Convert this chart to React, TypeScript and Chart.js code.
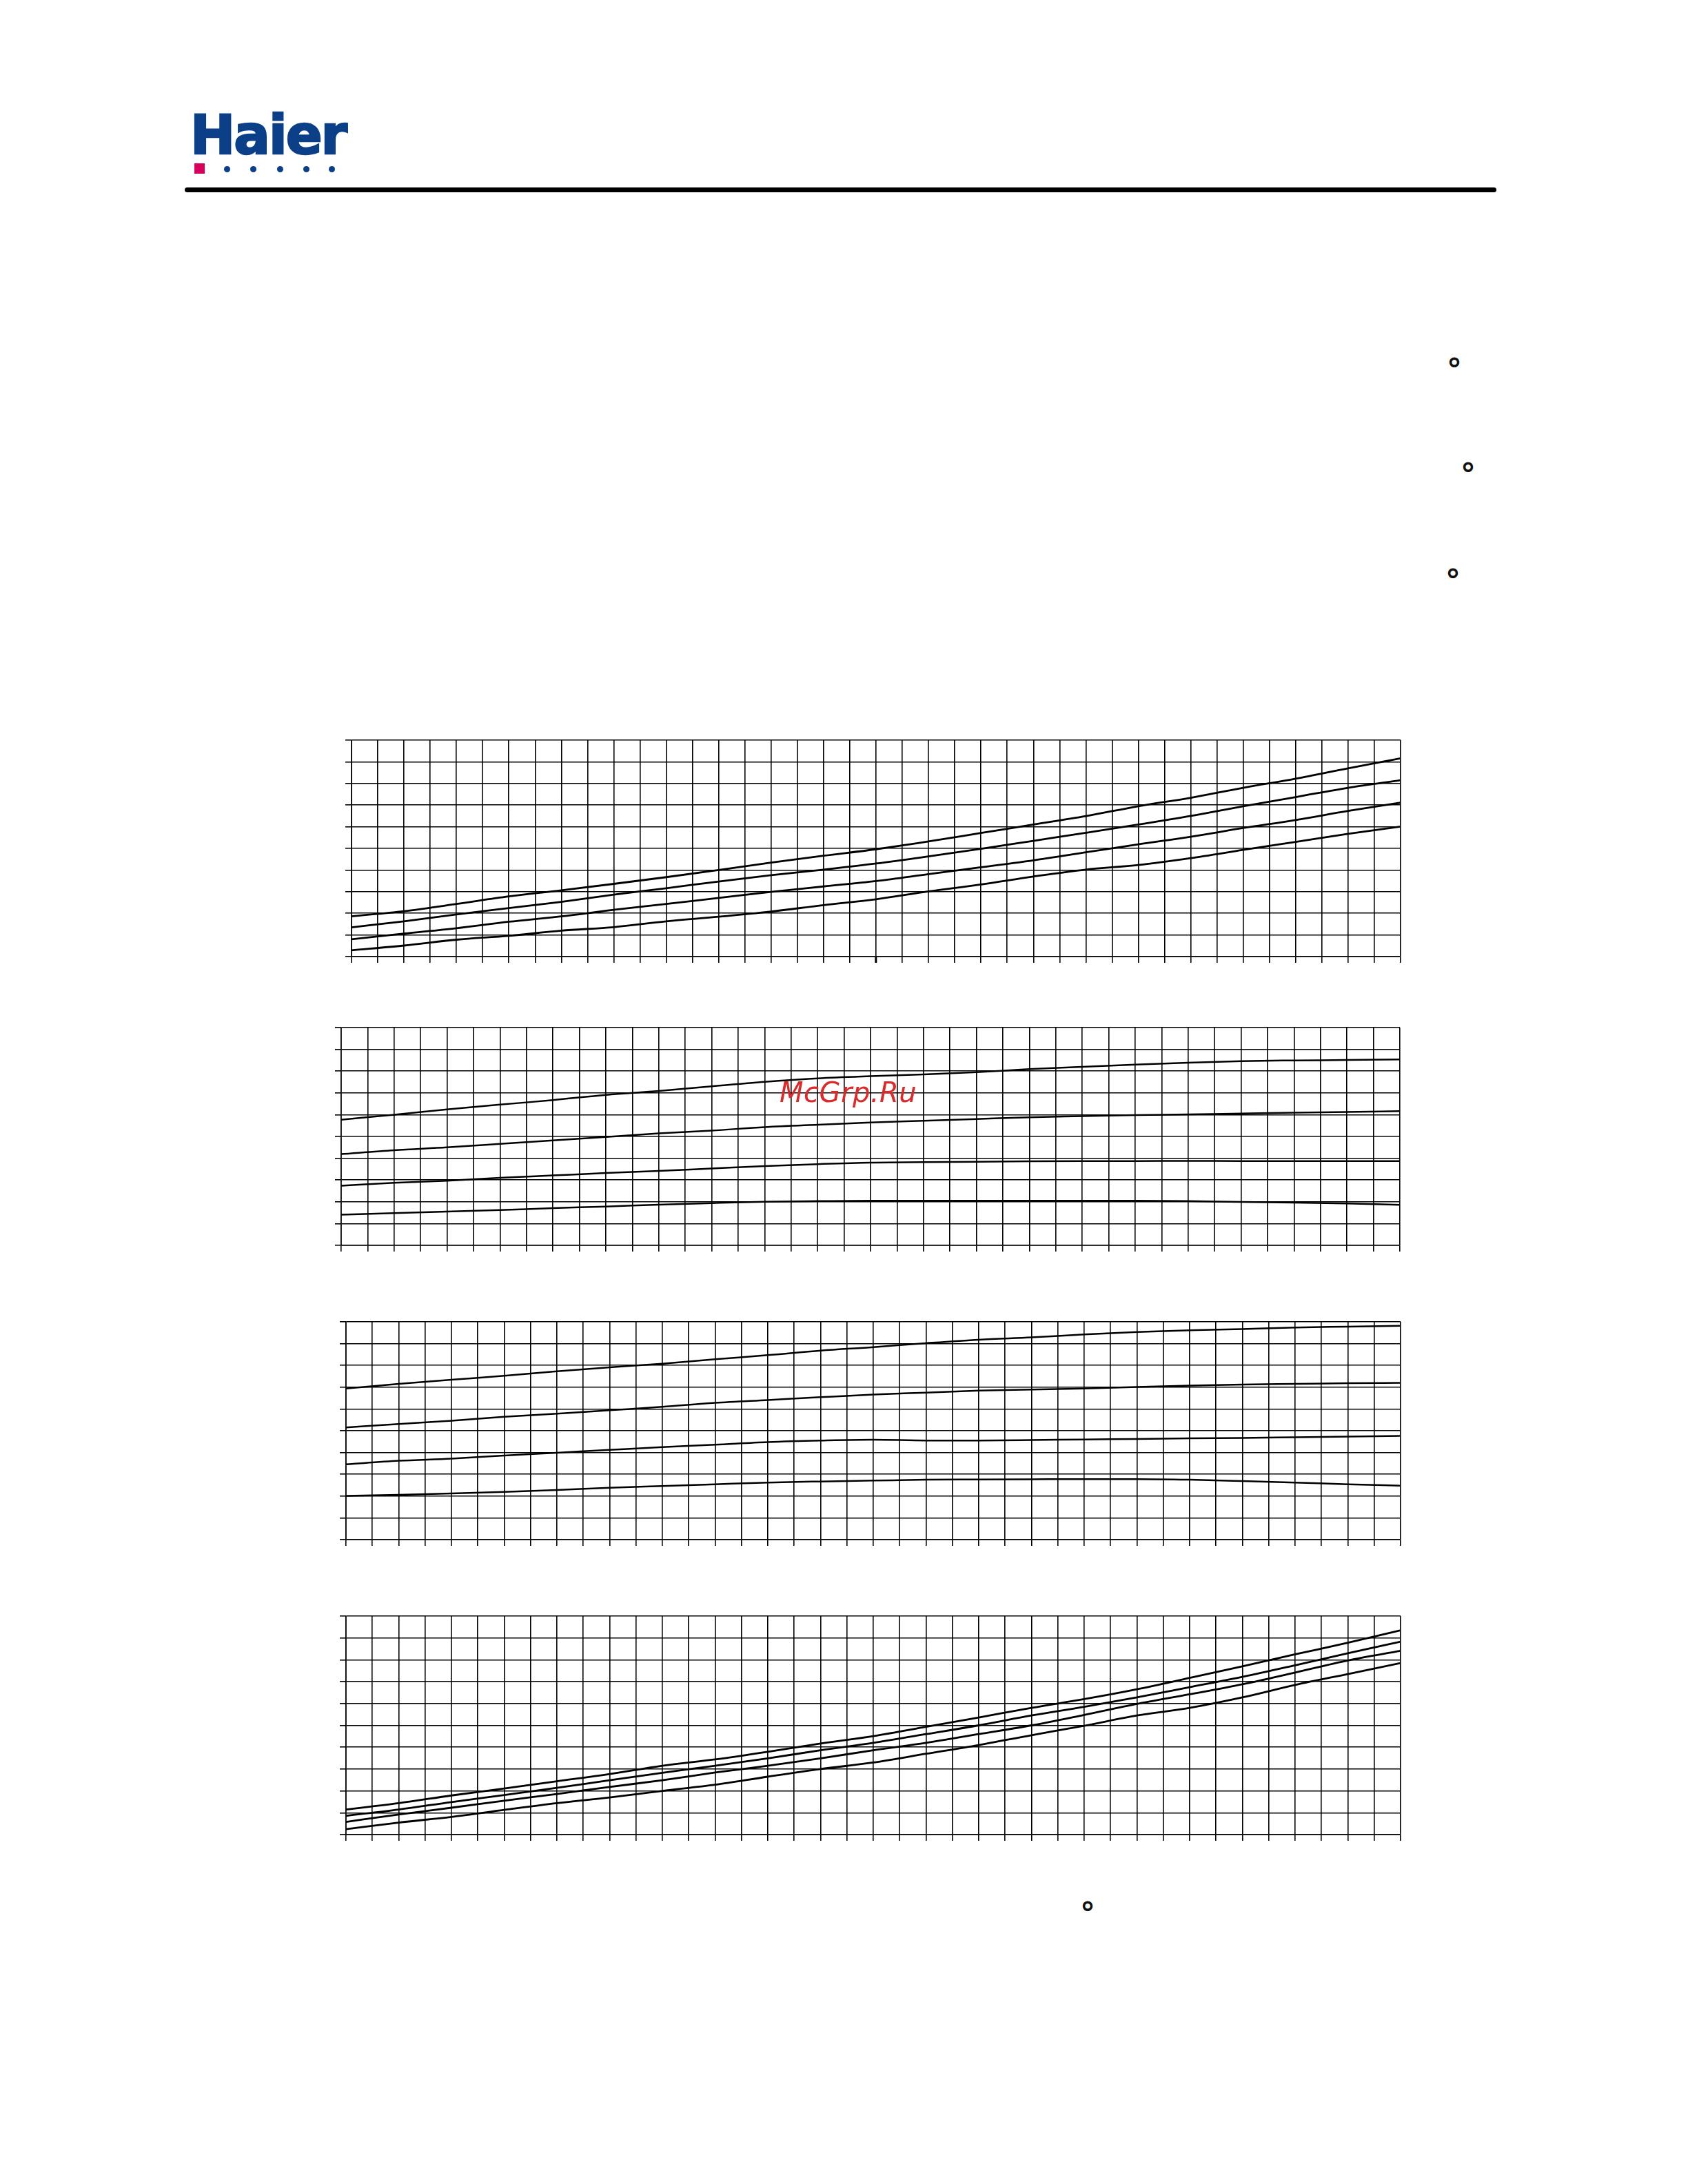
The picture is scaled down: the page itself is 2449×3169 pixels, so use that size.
import React, { useEffect, useRef } from "react";
import { Chart, registerables } from "chart.js";

Chart.register(...registerables);

// ---------- DATA (grid units: x = column index 0..40, y = row index 0..10) ----------
const xPositions = [0, 2, 4, 6, 8, 10, 12, 14, 16, 18, 20, 22, 24, 26, 28, 30, 32, 34, 36, 38, 40];
const columnCount = 40;
const rowCount = 10;

const chart1Line1 = [1.86, 2.1, 2.43, 2.78, 3.06, 3.36, 3.67, 4.0, 4.34, 4.66, 4.96, 5.32, 5.71, 6.1, 6.49, 6.95, 7.34, 7.8, 8.22, 8.7, 9.16];
const chart1Line2 = [1.35, 1.63, 1.95, 2.24, 2.53, 2.86, 3.16, 3.47, 3.76, 4.02, 4.3, 4.63, 4.98, 5.35, 5.72, 6.1, 6.5, 6.95, 7.37, 7.8, 8.15];
const chart1Line3 = [0.8, 1.06, 1.31, 1.61, 1.86, 2.16, 2.43, 2.71, 2.99, 3.24, 3.49, 3.81, 4.13, 4.45, 4.82, 5.19, 5.54, 5.94, 6.31, 6.73, 7.11];
const chart1Line4 = [0.29, 0.51, 0.78, 0.96, 1.2, 1.36, 1.63, 1.84, 2.08, 2.38, 2.65, 3.01, 3.33, 3.7, 4.02, 4.23, 4.55, 4.93, 5.3, 5.67, 6.01];

const chart2Line1 = [5.77, 6.0, 6.24, 6.46, 6.67, 6.91, 7.09, 7.3, 7.51, 7.67, 7.77, 7.85, 7.95, 8.09, 8.2, 8.3, 8.39, 8.46, 8.49, 8.51, 8.54];
const chart2Line2 = [4.19, 4.37, 4.5, 4.66, 4.82, 4.98, 5.14, 5.27, 5.43, 5.54, 5.64, 5.72, 5.8, 5.88, 5.93, 5.98, 6.01, 6.05, 6.09, 6.12, 6.16];
const chart2Line3 = [2.74, 2.87, 2.97, 3.1, 3.21, 3.32, 3.42, 3.53, 3.64, 3.73, 3.8, 3.82, 3.84, 3.86, 3.87, 3.87, 3.88, 3.87, 3.87, 3.87, 3.87];
const chart2Line4 = [1.41, 1.48, 1.55, 1.62, 1.71, 1.78, 1.87, 1.94, 2.0, 2.03, 2.05, 2.05, 2.05, 2.05, 2.05, 2.05, 2.03, 1.99, 1.96, 1.92, 1.86];

const chart3Line1 = [6.94, 7.15, 7.34, 7.52, 7.73, 7.91, 8.08, 8.28, 8.47, 8.68, 8.84, 9.02, 9.18, 9.29, 9.42, 9.53, 9.61, 9.67, 9.74, 9.78, 9.82];
const chart3Line2 = [5.15, 5.31, 5.46, 5.64, 5.78, 5.94, 6.1, 6.28, 6.41, 6.54, 6.66, 6.75, 6.84, 6.89, 6.94, 7.01, 7.07, 7.12, 7.15, 7.18, 7.2];
const chart3Line3 = [3.46, 3.62, 3.72, 3.86, 3.99, 4.12, 4.25, 4.36, 4.48, 4.55, 4.59, 4.55, 4.55, 4.57, 4.6, 4.62, 4.65, 4.67, 4.7, 4.73, 4.76];
const chart3Line4 = [2.01, 2.06, 2.12, 2.19, 2.28, 2.38, 2.46, 2.54, 2.62, 2.67, 2.71, 2.75, 2.76, 2.77, 2.78, 2.78, 2.75, 2.69, 2.62, 2.54, 2.48];

const chart4Line1 = [1.15, 1.44, 1.79, 2.11, 2.44, 2.77, 3.15, 3.44, 3.79, 4.17, 4.51, 4.93, 5.36, 5.8, 6.2, 6.65, 7.17, 7.7, 8.25, 8.78, 9.35];
const chart4Line2 = [0.86, 1.15, 1.49, 1.81, 2.14, 2.49, 2.83, 3.15, 3.49, 3.86, 4.2, 4.6, 5.0, 5.45, 5.85, 6.28, 6.75, 7.22, 7.75, 8.3, 8.83];
const chart4Line3 = [0.58, 0.92, 1.23, 1.55, 1.86, 2.18, 2.49, 2.84, 3.15, 3.49, 3.86, 4.2, 4.6, 5.0, 5.48, 5.98, 6.42, 6.88, 7.42, 7.97, 8.41];
const chart4Line4 = [0.25, 0.55, 0.81, 1.13, 1.44, 1.7, 2.0, 2.28, 2.65, 3.0, 3.3, 3.7, 4.1, 4.55, 4.98, 5.45, 5.8, 6.28, 6.85, 7.35, 7.85];

const logoText = "Haier";
const watermarkText = "McGrp.Ru";
const degreeText = "°";

// ---------- LAYOUT ----------
type Frame = { left: number; top: number; right: number; bottom: number };

const frames: Frame[] = [
  { left: 510, top: 1074, right: 2032, bottom: 1388 },
  { left: 495, top: 1491, right: 2031, bottom: 1807 },
  { left: 502, top: 1918, right: 2032, bottom: 2234 },
  { left: 502, top: 2345, right: 2032, bottom: 2662 },
];

const chartSeries = [
  [chart1Line1, chart1Line2, chart1Line3, chart1Line4],
  [chart2Line1, chart2Line2, chart2Line3, chart2Line4],
  [chart3Line1, chart3Line2, chart3Line3, chart3Line4],
  [chart4Line1, chart4Line2, chart4Line3, chart4Line4],
];

const lineWidths = [2.8, 2.5, 2.5, 2.8];
const emphasisTicks = [20, -1, -1, -1];

const degreeMarks = [
  { cx: 2110, cy: 527 },
  { cx: 2130, cy: 679 },
  { cx: 2108, cy: 833 },
  { cx: 1578, cy: 2767 },
];

const TICK = 9;
const PAD_L = 20;
const PAD_T = 10;
const PAD_R = 10;
const PAD_B = 20;
const GRID_W = 1.6;

function GridChart(props: { frame: Frame; series: number[][]; lineWidth: number; emphasisTick: number }) {
  const { frame, series, lineWidth, emphasisTick } = props;
  const ref = useRef<HTMLCanvasElement>(null);
  const x0 = frame.left - PAD_L;
  const y0 = frame.top - PAD_T;
  const w = frame.right - x0 + PAD_R;
  const h = frame.bottom - y0 + PAD_B;

  useEffect(() => {
    if (!ref.current) return;
    const chart = new Chart(ref.current, {
      type: "line",
      data: {
        datasets: series.map((values) => ({
          data: values.map((v, i) => ({ x: xPositions[i], y: v })),
          borderColor: "#000",
          borderWidth: lineWidth,
          pointRadius: 0,
          cubicInterpolationMode: "monotone",
          fill: false,
        })),
      },
      options: {
        animation: false,
        responsive: false,
        maintainAspectRatio: false,
        devicePixelRatio: 1,
        events: [],
        layout: {
          autoPadding: false,
          padding: { left: PAD_L - TICK, top: PAD_T, right: PAD_R, bottom: PAD_B - TICK },
        },
        plugins: {
          legend: { display: false },
          tooltip: { enabled: false },
          title: { display: false },
        },
        scales: {
          x: {
            type: "linear",
            min: 0,
            max: columnCount,
            ticks: { stepSize: 1, display: false, autoSkip: false },
            grid: {
              color: "#000",
              lineWidth: GRID_W,
              drawTicks: true,
              tickLength: TICK,
              tickColor: "#000",
              tickWidth: (ctx: any) => (ctx.index === emphasisTick ? 3 : GRID_W),
            },
            border: { display: true, color: "#000", width: GRID_W },
            afterFit: (s: any) => {
              s.height = TICK;
            },
          },
          y: {
            type: "linear",
            min: 0,
            max: rowCount,
            ticks: { stepSize: 1, display: false },
            grid: {
              color: "#000",
              lineWidth: GRID_W,
              drawTicks: true,
              tickLength: TICK,
              tickColor: "#000",
            },
            border: { display: true, color: "#000", width: GRID_W },
            afterFit: (s: any) => {
              s.width = TICK;
            },
          },
        },
      } as any,
    });
    return () => chart.destroy();
  }, []);

  return (
    <canvas
      ref={ref}
      width={w}
      height={h}
      style={{ position: "absolute", left: x0, top: y0, width: w, height: h }}
    />
  );
}

export default function App() {
  const blue = "#0b3f87";
  const dotXs = [329, 367, 406, 444, 481];
  return (
    <div
      style={{
        position: "absolute",
        left: 0,
        top: 0,
        width: 2449,
        height: 3169,
        overflow: "hidden",
        background: "#fff",
      }}
    >
      {/* logo */}
      <div
        style={{
          position: "absolute",
          left: 276,
          top: 157,
          fontFamily: "'DejaVu Sans', sans-serif",
          fontWeight: 700,
          fontSize: 78,
          lineHeight: "78px",
          letterSpacing: -2,
          color: blue,
          WebkitTextStroke: `2.5px ${blue}`,
          whiteSpace: "nowrap",
        }}
      >
        {logoText}
      </div>
      <div style={{ position: "absolute", left: 282, top: 237, width: 15, height: 15, background: "#d9005b" }} />
      {dotXs.map((x, i) => (
        <div
          key={i}
          style={{
            position: "absolute",
            left: x - 4.5,
            top: 245.5 - 4.5,
            width: 9,
            height: 9,
            borderRadius: "50%",
            background: blue,
          }}
        />
      ))}
      {/* header rule */}
      <div
        style={{
          position: "absolute",
          left: 268,
          top: 272,
          width: 2171 - 268,
          height: 7,
          background: "#000",
          borderRadius: 4,
        }}
      />
      {/* degree marks */}
      {degreeMarks.map((d, i) => (
        <div
          key={i}
          style={{
            position: "absolute",
            left: d.cx - 11,
            top: d.cy - 12,
            fontFamily: "'DejaVu Sans', sans-serif",
            fontWeight: 700,
            fontSize: 44,
            lineHeight: "44px",
            color: "#111",
            whiteSpace: "nowrap",
          }}
        >
          {degreeText}
        </div>
      ))}
      {/* charts */}
      {frames.map((f, i) => (
        <GridChart key={i} frame={f} series={chartSeries[i]} lineWidth={lineWidths[i]} emphasisTick={emphasisTicks[i]} />
      ))}
      {/* watermark */}
      <div
        style={{
          position: "absolute",
          left: 1131,
          top: 1565,
          fontFamily: "'DejaVu Sans', sans-serif",
          fontStyle: "italic",
          fontSize: 40,
          lineHeight: "40px",
          letterSpacing: 0.5,
          color: "#d92b2b",
          whiteSpace: "nowrap",
          zIndex: 2,
        }}
      >
        {watermarkText}
      </div>
    </div>
  );
}
